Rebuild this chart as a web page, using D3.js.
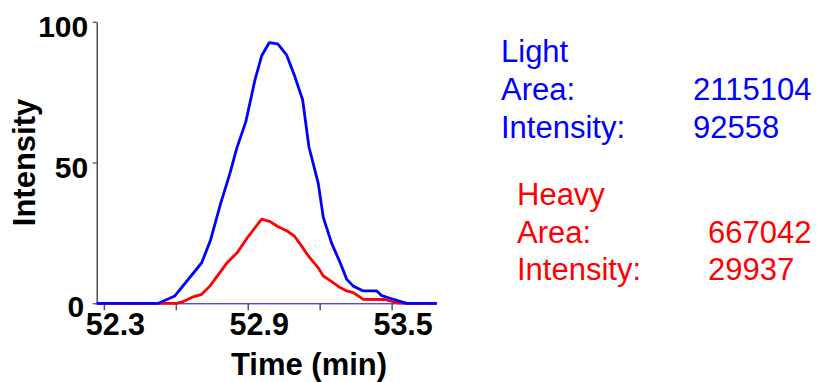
<!DOCTYPE html>
<html>
<head>
<meta charset="utf-8">
<script src="https://cdn.jsdelivr.net/npm/d3@7"></script>
<style>
  body { margin: 0; background: #fff; }
  svg { display: block; font-family: "Liberation Sans", Arial, sans-serif; }
</style>
</head>
<body>
<div id="chart"></div>
<script>
// Light (blue) trace: retention time (min) and intensity (x1000)
const lightTime = [52.27, 52.527, 52.596, 52.708, 52.745, 52.787, 52.826, 52.854, 52.892, 52.930, 52.958,
  52.990, 53.025, 53.062, 53.094, 53.129, 53.155, 53.194, 53.215, 53.250, 53.285, 53.313, 53.340,
  53.382, 53.438, 53.459, 53.493, 53.563, 53.688];
const lightIntensity = [0, 0, 2.6, 14.4, 22.5, 35.5, 46.2, 55.0, 64.5, 79.3, 87.9,
  92.6, 92.1, 88.2, 81.1, 72.2, 55.6, 42.6, 30.5, 21.3, 14.5, 8.5, 6.1,
  4.4, 4.4, 2.7, 1.8, 0, 0];

// Heavy (red) trace
const heavyTime = [52.27, 52.603, 52.631, 52.673, 52.708, 52.742, 52.812, 52.856, 52.902, 52.958,
  52.993, 53.027, 53.062, 53.094, 53.125, 53.153, 53.194, 53.215, 53.250, 53.285, 53.313, 53.340,
  53.382, 53.472, 53.521, 53.563, 53.688];
const heavyIntensity = [0, 0, 0.6, 2.3, 3.2, 6.1, 14.2, 18.0, 23.7, 29.9,
  29.0, 27.2, 25.8, 23.9, 20.3, 16.8, 12.6, 9.7, 7.7, 5.6, 4.4, 3.8,
  1.4, 1.35, 0.2, 0, 0];

const xTicks = [52.3, 52.6, 52.9, 53.2, 53.5];
const xTickLabels = ["52.3", "", "52.9", "", "53.5"];
const yTicks = [0, 50, 100];

const legendLight = [["Light", ""], ["Area:", "2115104"], ["Intensity:", "92558"]];
const legendHeavy = [["Heavy", ""], ["Area:", "667042"], ["Intensity:", "29937"]];

const width = 821, height = 382;
const blue = "#0000ff", red = "#ff0000";

const svg = d3.select("#chart").append("svg")
  .attr("width", width)
  .attr("height", height);

const x = d3.scaleLinear().domain([52.27, 53.688]).range([96.7, 436.7]);
const y = d3.scaleLinear().domain([0, 100]).range([303.3, 21.7]);

// x axis: ticks only, labels sit a bit right of their ticks
const xAxis = svg.append("g")
  .attr("transform", `translate(0,${y(0)})`)
  .call(d3.axisBottom(x).tickValues(xTicks).tickSize(7).tickSizeOuter(0)
    .tickFormat((d, i) => xTickLabels[i]));
xAxis.select(".domain").attr("stroke", blue).attr("stroke-width", 1);
xAxis.selectAll(".tick line").attr("stroke", "#555").attr("stroke-width", 1.5);
xAxis.selectAll(".tick text")
  .attr("fill", "#000")
  .attr("font-size", 30.5)
  .attr("font-weight", "bold")
  .attr("font-family", "Liberation Sans, Arial, sans-serif")
  .attr("dx", 11)
  .attr("dy", null)
  .attr("y", 32);

// y axis
const yAxis = svg.append("g")
  .attr("transform", `translate(${x(52.27)},0)`)
  .call(d3.axisLeft(y).tickValues(yTicks).tickSize(4).tickSizeOuter(0));
yAxis.select(".domain").attr("stroke", "#222").attr("stroke-width", 1.2);
yAxis.selectAll(".tick line").attr("stroke", "#222");
yAxis.selectAll(".tick text")
  .attr("fill", "#000")
  .attr("font-size", 30)
  .attr("font-weight", "bold")
  .attr("font-family", "Liberation Sans, Arial, sans-serif")
  .attr("x", d => d === 0 ? -12.5 : -8.5)
  .attr("dy", null)
  .attr("y", d => d === 0 ? 13.5 : 14.5);

// axis titles
svg.append("text")
  .attr("transform", `translate(35,${(y(0) + y(100)) / 2}) rotate(-90)`)
  .attr("text-anchor", "middle")
  .attr("font-size", 31)
  .attr("font-weight", "bold")
  .text("Intensity");

svg.append("text")
  .attr("x", 309)
  .attr("y", 375)
  .attr("text-anchor", "middle")
  .attr("font-size", 31)
  .attr("font-weight", "bold")
  .text("Time (min)");

// traces
const line = d3.line()
  .x(d => x(d[0]))
  .y(d => y(d[1]));

svg.append("path")
  .datum(d3.zip(heavyTime, heavyIntensity))
  .attr("fill", "none")
  .attr("stroke", red)
  .attr("stroke-width", 2.8)
  .attr("stroke-linejoin", "round")
  .attr("d", line);

svg.append("path")
  .datum(d3.zip(lightTime, lightIntensity))
  .attr("fill", "none")
  .attr("stroke", blue)
  .attr("stroke-width", 2.8)
  .attr("stroke-linejoin", "round")
  .attr("d", line);

// side legend with area / intensity values
function drawLegend(rows, color, x0, xVal, y0, step) {
  const g = svg.append("g").attr("fill", color).attr("font-size", 31);
  rows.forEach((r, i) => {
    g.append("text").attr("x", x0).attr("y", y0 + i * step).text(r[0]);
    if (r[1]) g.append("text").attr("x", xVal).attr("y", y0 + i * step).text(r[1]);
  });
}
drawLegend(legendLight, blue, 501, 693, 61.7, 38.3);
drawLegend(legendHeavy, red, 517, 708, 205, 37.5);
</script>
</body>
</html>
